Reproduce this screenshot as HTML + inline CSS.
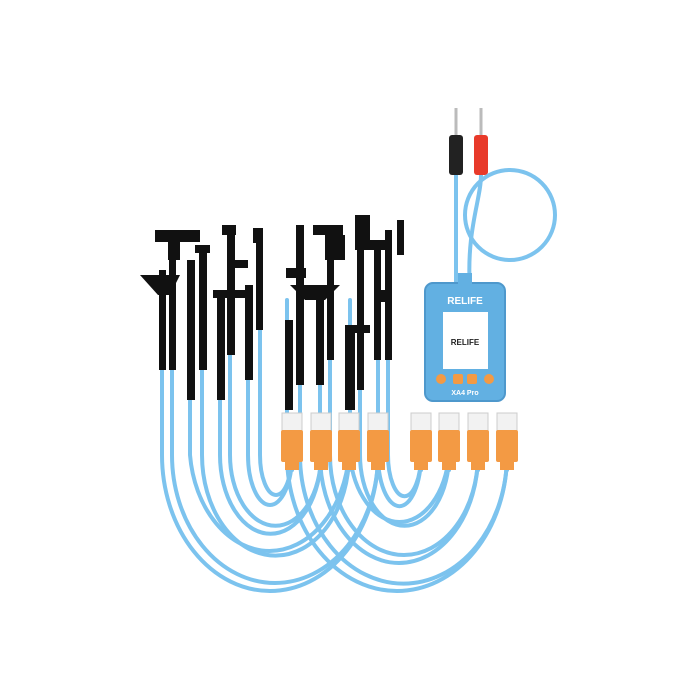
<!DOCTYPE html>
<html><head><meta charset="utf-8"><style>
html,body{margin:0;padding:0;background:#fff;}
svg{display:block}
</style></head><body>
<svg width="700" height="700" viewBox="0 0 700 700" xmlns="http://www.w3.org/2000/svg">
<defs>
<g id="u"><rect x="-10" y="413" width="20" height="18" fill="#f2f2f2" stroke="#ccc"/><rect x="-11" y="430" width="22" height="32" rx="2" fill="#f39a44"/><rect x="-7" y="460" width="14" height="10" fill="#f39a44"/></g>
</defs>
<rect width="700" height="700" fill="#fff"/>
<g fill="none" stroke="#7cc3ee" stroke-width="4" stroke-linecap="round">
<!-- left group -->
<path d="M260 300 V455 A16 40 0 0 0 292 455 V470"/>
<path d="M248 300 V455 A22 50 0 0 0 292 455 V470"/>
<path d="M230 300 V455 A45 70 0 0 0 321 455 V470"/>
<path d="M220 300 V455 A50 78 0 0 0 321 455 V470"/>
<path d="M202 300 V455 A73 100 0 0 0 349 455 V470"/>
<path d="M190 300 V455 A80 108 0 0 0 349 455 V470"/>
<path d="M172 300 V455 A103 128 0 0 0 378 455 V470"/>
<path d="M162 300 V455 A108 136 0 0 0 378 455 V470"/>
<!-- right group -->
<path d="M388 300 V455 A16 40 0 0 0 421 455 V470"/>
<path d="M378 300 V455 A21 50 0 0 0 421 455 V470"/>
<path d="M360 300 V455 A44 70 0 0 0 449 455 V470"/>
<path d="M350 300 V455 A50 78 0 0 0 449 455 V470"/>
<path d="M330 300 V455 A74 100 0 0 0 478 455 V470"/>
<path d="M320 300 V455 A79 108 0 0 0 478 455 V470"/>
<path d="M300 300 V455 A103 128 0 0 0 507 455 V470"/>
<path d="M287 300 V455 A110 136 0 0 0 507 455 V470"/>
</g>
<!-- black flex parts -->
<g fill="#111">
<rect x="159" y="270" width="7" height="100"/><rect x="169" y="250" width="7" height="120"/>
<path d="M140 275 H180 L170 295 H158 Z"/>
<rect x="155" y="230" width="45" height="12"/><rect x="168" y="240" width="12" height="20"/>
<rect x="187" y="260" width="8" height="140"/><rect x="199" y="245" width="8" height="125"/>
<rect x="195" y="245" width="15" height="8"/>
<rect x="217" y="290" width="8" height="110"/><rect x="227" y="225" width="8" height="130"/>
<rect x="222" y="225" width="14" height="10"/><rect x="230" y="260" width="18" height="8"/>
<rect x="245" y="285" width="8" height="95"/><rect x="256" y="230" width="7" height="100"/>
<rect x="213" y="290" width="40" height="8"/><rect x="253" y="228" width="10" height="15"/>
<rect x="285" y="320" width="8" height="90"/><rect x="296" y="225" width="8" height="160"/>
<rect x="286" y="268" width="20" height="10"/>
<path d="M290 285 H340 L325 300 H305 Z"/>
<rect x="316" y="290" width="8" height="95"/><rect x="327" y="250" width="7" height="110"/>
<rect x="313" y="225" width="30" height="10"/><rect x="325" y="235" width="20" height="25"/>
<rect x="345" y="325" width="10" height="85"/><rect x="357" y="250" width="7" height="140"/>
<rect x="345" y="325" width="25" height="8"/><rect x="355" y="215" width="15" height="35"/>
<rect x="374" y="240" width="7" height="120"/><rect x="385" y="230" width="7" height="130"/>
<rect x="370" y="240" width="22" height="10"/><rect x="378" y="290" width="14" height="12"/>
<rect x="397" y="220" width="7" height="35"/>
</g>
<!-- USB connectors -->
<use href="#u" x="292"/><use href="#u" x="321"/><use href="#u" x="349"/><use href="#u" x="378"/>
<use href="#u" x="421"/><use href="#u" x="449"/><use href="#u" x="478"/><use href="#u" x="507"/>
<!-- probes -->
<line x1="456" y1="108" x2="456" y2="135" stroke="#bbb" stroke-width="3"/>
<line x1="481" y1="108" x2="481" y2="135" stroke="#bbb" stroke-width="3"/>
<rect x="449" y="135" width="14" height="40" rx="3" fill="#222"/>
<rect x="474" y="135" width="14" height="40" rx="3" fill="#e83a2a"/>
<g fill="none" stroke="#7cc3ee" stroke-width="4">
<path d="M456 175 V290"/>
<path d="M481 175 C481 200 466 230 470 290"/>
<circle cx="510" cy="215" r="45"/>
</g>
<!-- device -->
<rect x="425" y="283" width="80" height="118" rx="8" fill="#62b0e2" stroke="#4e98cc" stroke-width="2"/>
<rect x="458" y="273" width="14" height="12" fill="#62b0e2"/>
<text x="465" y="304" font-family="Liberation Sans,sans-serif" font-size="10" font-weight="bold" fill="#fff" text-anchor="middle">RELIFE</text>
<rect x="443" y="312" width="45" height="57" fill="#fff"/>
<text x="465" y="345" font-family="Liberation Sans,sans-serif" font-size="8" font-weight="bold" fill="#222" text-anchor="middle">RELIFE</text>
<circle cx="441" cy="379" r="5" fill="#f39a44"/><rect x="453" y="374" width="10" height="10" rx="2" fill="#f39a44"/>
<rect x="467" y="374" width="10" height="10" rx="2" fill="#f39a44"/><circle cx="489" cy="379" r="5" fill="#f39a44"/>
<text x="465" y="395" font-family="Liberation Sans,sans-serif" font-size="7" font-weight="bold" fill="#fff" text-anchor="middle">XA4 Pro</text>
</svg>
</body></html>
